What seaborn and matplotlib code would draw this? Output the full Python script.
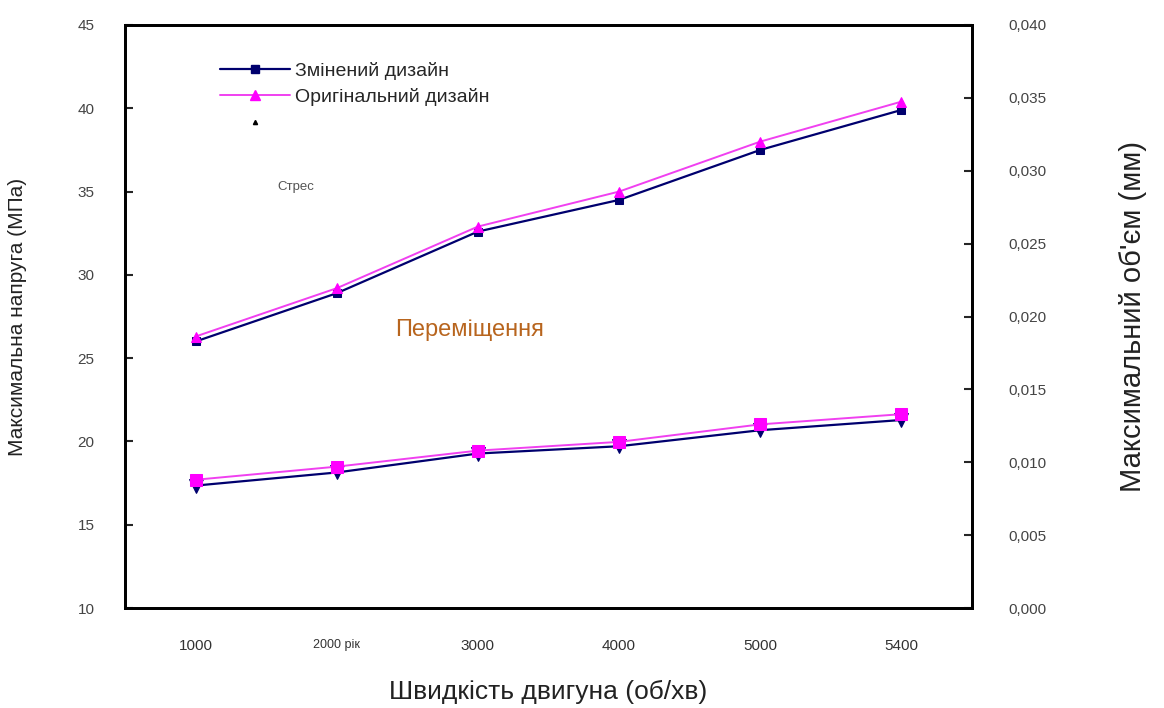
import numpy as np
import pandas as pd
import matplotlib
matplotlib.use("Agg")
import matplotlib.pyplot as plt
from matplotlib.lines import Line2D
from matplotlib.ticker import FuncFormatter
import seaborn as sns

# дані
швидкість = ["1000", "2000 рік", "3000", "4000", "5000", "5400"]

# напруга (МПа), ліва вісь
напруга_змінений = [26.0, 28.9, 32.6, 34.5, 37.5, 39.9]
напруга_оригінал = [26.3, 29.2, 32.9, 35.0, 38.0, 40.4]

# переміщення (мм), права вісь
переміщ_змінений = [0.0084, 0.0093, 0.0106, 0.0111, 0.0122, 0.0129]
переміщ_оригінал = [0.0088, 0.0097, 0.0108, 0.0114, 0.0126, 0.0133]

лів_тики = [10, 15, 20, 25, 30, 35, 40, 45]
прав_тики = [0.0, 0.005, 0.010, 0.015, 0.020, 0.025, 0.030, 0.035, 0.040]

СИНІЙ = "#00006e"
МАДЖЕНТА = "#ff00ff"
ЛІНІЯ_М = "#f040f0"

sns.set_style("white")
plt.rcParams["font.family"] = ["Liberation Sans", "DejaVu Sans"]

df = pd.DataFrame({
    "x": np.arange(len(швидкість)),
    "н_зм": напруга_змінений,
    "н_ор": напруга_оригінал,
    "п_зм": переміщ_змінений,
    "п_ор": переміщ_оригінал,
})

fig = plt.figure(figsize=(11.64, 7.08), dpi=100)
ax = fig.add_axes([0.1074, 0.1412, 0.7277, 0.8235])
ax2 = ax.twinx()

# стрес
sns.lineplot(data=df, x="x", y="н_зм", ax=ax, color=СИНІЙ, marker="s",
             markersize=6, markeredgecolor=СИНІЙ, linewidth=1.6)
sns.lineplot(data=df, x="x", y="н_ор", ax=ax, color=ЛІНІЯ_М, marker="^",
             markersize=7, markerfacecolor=МАДЖЕНТА, markeredgecolor=МАДЖЕНТА,
             linewidth=1.4)

# переміщення
sns.lineplot(data=df, x="x", y="п_зм", ax=ax2, color=СИНІЙ, marker="v",
             markersize=10, markeredgecolor=СИНІЙ, linewidth=1.6)
sns.lineplot(data=df, x="x", y="п_ор", ax=ax2, color=ЛІНІЯ_М, marker="s",
             markersize=9, markerfacecolor=МАДЖЕНТА, markeredgecolor=МАДЖЕНТА,
             linewidth=1.4)

ax.set_xlim(-0.5, len(швидкість) - 0.5)
ax.set_ylim(10, 45)
ax2.set_ylim(0, 0.040)

# осі x: тики між категоріями, підписи в центрі
ax.set_xticks(np.arange(len(швидкість) - 1) + 0.5)
ax.set_xticklabels([])
ax.set_xticks(np.arange(len(швидкість)), minor=True)
ax.set_xticklabels(швидкість, minor=True)
ax.tick_params(axis="x", which="minor", length=0, pad=22, labelsize=11,
               labelcolor="#333333")
ax.tick_params(axis="x", which="major", direction="in", length=6, width=1.5)
for lbl in ax.get_xticklabels(minor=True):
    if "рік" in lbl.get_text():
        lbl.set_fontsize(9)

ax.set_yticks(лів_тики)
ax.tick_params(axis="y", direction="in", length=6, width=1.5, pad=22,
               labelsize=11, labelcolor="#444444")
ax2.set_yticks(прав_тики)
ax2.yaxis.set_major_formatter(FuncFormatter(lambda v, p: f"{v:.3f}".replace(".", ",")))
ax2.tick_params(axis="y", direction="in", length=6, width=1.5, pad=26,
                labelsize=11, labelcolor="#444444")

for a in (ax, ax2):
    for s in a.spines.values():
        s.set_linewidth(2)
        s.set_color("black")

ax.set_xlabel("Швидкість двигуна (об/хв)", fontsize=19, color="#222222", labelpad=20)
ax.set_ylabel("Максимальна напруга (МПа)", fontsize=15, color="#222222", labelpad=36)
ax2.set_ylabel("Максимальний об'єм (мм)", fontsize=21, color="#222222", labelpad=52)

ax.text(0.71, 35.3, "Стрес", fontsize=9.5, color="#555555", ha="center", va="center")
ax.text(1.94, 26.7, "Переміщення", fontsize=17, color="#b8651e", ha="center", va="center")

handles = [
    Line2D([], [], color=СИНІЙ, marker="s", markersize=6, linewidth=1.6),
    Line2D([], [], color=ЛІНІЯ_М, marker="^", markersize=7,
           markerfacecolor=МАДЖЕНТА, markeredgecolor=МАДЖЕНТА, linewidth=1.4),
    Line2D([], [], color="black", marker="^", markersize=3, linewidth=0),
]
ax.legend(handles, ["Змінений дизайн", "Оригінальний дизайн", ""],
          loc="upper left", bbox_to_anchor=(0.112, 0.937), frameon=False,
          fontsize=14, handlelength=3.6, handletextpad=0.25, labelspacing=0.44,
          borderpad=0, borderaxespad=0)

fig.savefig("out.png", dpi=100)
